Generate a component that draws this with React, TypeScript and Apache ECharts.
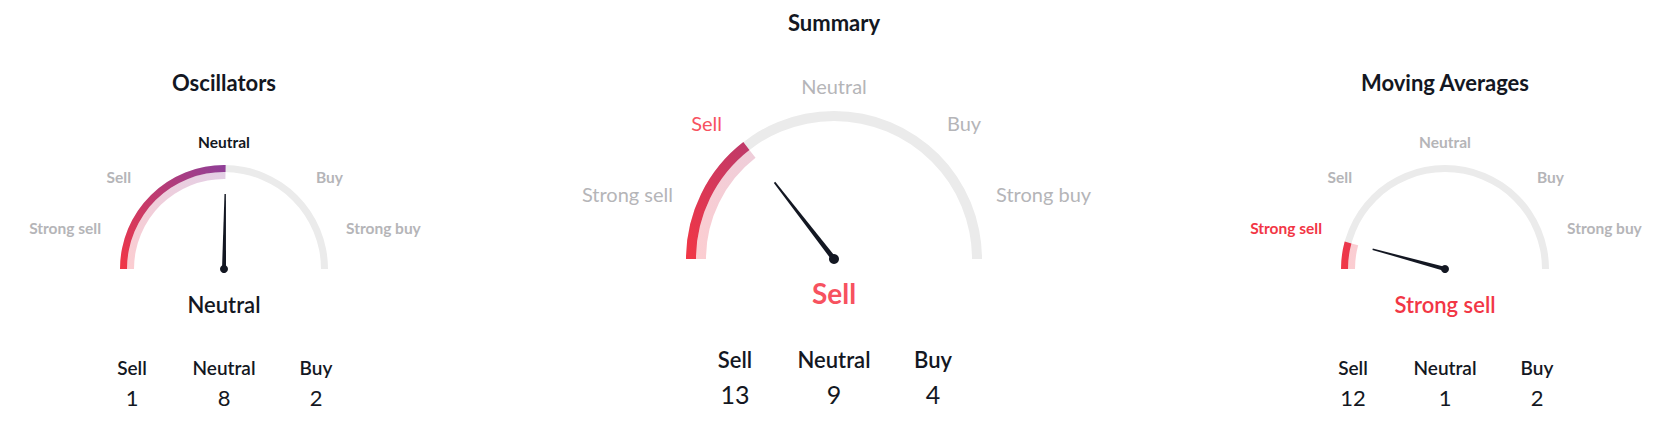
import { useEffect, useRef } from 'react';
import * as echarts from 'echarts';

// gauges, left to right
const gaugeNames = ['Oscillators', 'Summary', 'Moving Averages'];
const ratings = [0.01, -0.42, -0.83];
const ratingLabels = ['Neutral', 'Sell', 'Strong sell'];
const sectionLabels = ['Strong sell', 'Sell', 'Neutral', 'Buy', 'Strong buy'];
const countHeaders = ['Sell', 'Neutral', 'Buy'];
const sellCounts = [1, 13, 12];
const neutralCounts = [8, 9, 1];
const buyCounts = [2, 4, 2];

const FONT = "'Trebuchet MS', Lato, 'Open Sans', sans-serif";
const RED = '#f23645';
const GREY = '#b5b5b8';
const DARK = '#131722';
const TRACK = '#ebebeb';

// layout per gauge
const centers = [
    { cx: 224, cy: 269, r: 104, w: 7, big: false, titleY: 82 },
    { cx: 834, cy: 259, r: 148, w: 10, big: true, titleY: 22 },
    { cx: 1445, cy: 269, r: 104, w: 7, big: false, titleY: 82 }
];
const resultColors = [DARK, '#f7525f', RED];
const progressEnd = ['#8e3f98', '#bd3a6b', '#e8384f'];

// label offsets from the pivot: [dx, dy, align]
const smallLabelPos: [number, number, string][] = [
    [-123, -41, 'right'], [-93, -92, 'right'], [0, -127, 'center'], [92, -92, 'left'], [122, -41, 'left']
];
const bigLabelPos: [number, number, string][] = [
    [-161, -65, 'right'], [-112, -136, 'right'], [0, -173, 'center'], [113, -136, 'left'], [162, -65, 'left']
];

function hexAlpha(hex: string, a: number) {
    const n = parseInt(hex.slice(1), 16);
    return `rgba(${(n >> 16) & 255},${(n >> 8) & 255},${n & 255},${a})`;
}

export default function App() {
    const chartRef = useRef<HTMLDivElement>(null);

    useEffect(() => {
        if (!chartRef.current) return;
        document.body.style.margin = '0';
        const chart = echarts.init(chartRef.current, null, { renderer: 'svg' });

        const series: any[] = [];
        const graphic: any[] = [];

        centers.forEach((c, i) => {
            const grad = (a: number) => new echarts.graphic.LinearGradient(0, 1, 1, 0, [
                { offset: 0, color: hexAlpha(RED, a) },
                { offset: 1, color: hexAlpha(progressEnd[i], a) }
            ]);
            const base = {
                type: 'gauge',
                center: [c.cx, c.cy],
                startAngle: 180,
                endAngle: 0,
                min: -1,
                max: 1,
                axisTick: { show: false },
                splitLine: { show: false },
                axisLabel: { show: false },
                title: { show: false },
                detail: { show: false },
                data: [{ value: ratings[i], name: gaugeNames[i] }]
            };
            // outer band: grey track + coloured progress + needle
            series.push({
                ...base,
                radius: c.r,
                axisLine: { lineStyle: { width: c.w, color: [[1, TRACK]] } },
                progress: { show: true, width: c.w, itemStyle: { color: grad(1) } },
                pointer: {
                    show: true,
                    icon: 'path://M0 100 L1.3 0 L2.7 0 L4 100 Z',
                    width: c.big ? 5 : 4,
                    length: c.big ? 97 : 75,
                    itemStyle: { color: DARK }
                },
                anchor: { show: true, showAbove: true, size: c.big ? 10 : 8, itemStyle: { color: DARK } }
            });
            // inner pale band
            series.push({
                ...base,
                radius: c.r - c.w,
                axisLine: { show: false },
                progress: { show: true, width: c.w, itemStyle: { color: grad(0.25) } },
                pointer: { show: false },
                anchor: { show: false }
            });

            graphic.push({
                type: 'text', x: c.cx, y: c.titleY,
                style: { text: gaugeNames[i], fill: DARK, fontSize: 22, fontWeight: 'bold', fontFamily: FONT, align: 'center', verticalAlign: 'middle' }
            });

            const pos = c.big ? bigLabelPos : smallLabelPos;
            sectionLabels.forEach((lab, k) => {
                const active = lab === ratingLabels[i];
                graphic.push({
                    type: 'text', x: c.cx + pos[k][0], y: c.cy + pos[k][1],
                    style: {
                        text: lab,
                        fill: active ? resultColors[i] : GREY,
                        fontSize: c.big ? 20 : 15.5,
                        fontWeight: c.big ? 'normal' : 'bold',
                        fontFamily: FONT,
                        align: pos[k][2],
                        verticalAlign: 'middle'
                    }
                });
            });

            graphic.push({
                type: 'text', x: c.cx, y: c.cy + (c.big ? 34 : 35),
                style: {
                    text: ratingLabels[i], fill: resultColors[i],
                    fontSize: c.big ? 28 : 22, fontWeight: c.big ? 'bold' : 600,
                    fontFamily: FONT, align: 'center', verticalAlign: 'middle'
                }
            });

            const counts = [sellCounts[i], neutralCounts[i], buyCounts[i]];
            const step = c.big ? 99 : 92;
            countHeaders.forEach((h, k) => {
                const x = c.cx + (k - 1) * step;
                graphic.push({
                    type: 'text', x, y: c.cy + (c.big ? 100 : 98),
                    style: { text: h, fill: DARK, fontSize: c.big ? 22 : 19, fontWeight: 600, fontFamily: FONT, align: 'center', verticalAlign: 'middle' }
                });
                graphic.push({
                    type: 'text', x, y: c.cy + (c.big ? 135 : 128),
                    style: { text: String(counts[k]), fill: DARK, fontSize: c.big ? 25 : 22, fontFamily: FONT, align: 'center', verticalAlign: 'middle' }
                });
            });
        });

        chart.setOption({ animation: false, series, graphic });

        return () => {
            chart.dispose();
        };
    }, []);

    return <div ref={chartRef} style={{ width: '1680px', height: '439px' }} />;
}
